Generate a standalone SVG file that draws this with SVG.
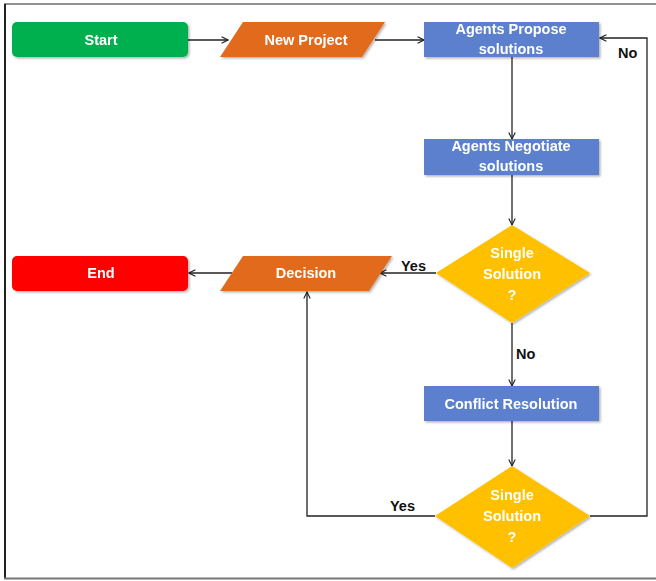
<svg xmlns="http://www.w3.org/2000/svg" width="656" height="581" viewBox="0 0 656 581">
  <style>
    .lbl { font-family: "Liberation Sans", Arial, sans-serif; font-weight: bold; font-size: 14.5px; fill: #ffffff; text-anchor: middle; }
    .edge { font-family: "Liberation Sans", Arial, sans-serif; font-weight: bold; font-size: 14.5px; fill: #111111; }
    .conn { fill: none; stroke: #222222; stroke-width: 1.3; }
    .green { fill: #00B050; }
    .red { fill: #FF0000; }
    .orange { fill: #E26B1C; }
    .blue { fill: #5B80CD; }
    .yellow { fill: #FFC000; }
  </style>
  <defs>
    <marker id="arrow" viewBox="0 0 10 10" refX="9" refY="5" markerWidth="8" markerHeight="8" markerUnits="userSpaceOnUse" orient="auto">
      <path d="M1,1 L9,5 L1,9" fill="none" stroke="#222222" stroke-width="1.4"/>
    </marker>
    <filter id="shadow" x="-10%" y="-20%" width="130%" height="150%">
      <feDropShadow dx="1.5" dy="1.5" stdDeviation="1.2" flood-color="#000000" flood-opacity="0.3"/>
    </filter>
  </defs>

  <rect width="656" height="581" fill="#ffffff"/>
  <!-- page frame -->
  <line x1="4" y1="4" x2="656" y2="4" stroke="#222222" stroke-width="1"/>
  <line x1="5" y1="4" x2="5" y2="579" stroke="#222222" stroke-width="2"/>
  <line x1="4" y1="578.5" x2="656" y2="578.5" stroke="#777777" stroke-width="2"/>

  <!-- connectors -->
  <g id="connectors">
    <line class="conn" x1="188" y1="40" x2="228" y2="40" marker-end="url(#arrow)"/>
    <line class="conn" x1="375" y1="40" x2="424" y2="40" marker-end="url(#arrow)"/>
    <line class="conn" x1="512" y1="57" x2="512" y2="139" marker-end="url(#arrow)"/>
    <line class="conn" x1="512" y1="175" x2="512" y2="225" marker-end="url(#arrow)"/>
    <line class="conn" x1="436" y1="273" x2="380" y2="273" marker-end="url(#arrow)"/>
    <line class="conn" x1="232" y1="273" x2="189" y2="273" marker-end="url(#arrow)"/>
    <line class="conn" x1="512" y1="323" x2="512" y2="386" marker-end="url(#arrow)"/>
    <line class="conn" x1="512" y1="421" x2="512" y2="466" marker-end="url(#arrow)"/>
    <polyline class="conn" points="435,516 307,516 307,292" marker-end="url(#arrow)"/>
    <polyline class="conn" points="590,516 647,516 647,38 600,38" marker-end="url(#arrow)"/>
    <text class="edge" x="618" y="58">No</text>
    <text class="edge" x="401" y="271">Yes</text>
    <text class="edge" x="516" y="359">No</text>
    <text class="edge" x="390" y="511">Yes</text>
  </g>

  <g id="start" filter="url(#shadow)">
    <rect class="green" x="12" y="22" width="176" height="35" rx="5"/>
    <text class="lbl" x="101" y="45">Start</text>
  </g>

  <g id="new-project" filter="url(#shadow)">
    <polygon class="orange" points="243,22 385,22 362,57 220,57"/>
    <text class="lbl" x="306" y="45">New Project</text>
  </g>

  <g id="agents-propose" filter="url(#shadow)">
    <rect class="blue" x="424" y="22" width="175" height="35"/>
    <text class="lbl" x="511" y="34">Agents Propose</text>
    <text class="lbl" x="511" y="54">solutions</text>
  </g>

  <g id="agents-negotiate" filter="url(#shadow)">
    <rect class="blue" x="424" y="139" width="175" height="36"/>
    <text class="lbl" x="511" y="151">Agents Negotiate</text>
    <text class="lbl" x="511" y="171">solutions</text>
  </g>

  <g id="single-solution-1" filter="url(#shadow)">
    <polygon class="yellow" points="512,225 590,273 512,323 436,273"/>
    <text class="lbl" x="512" y="258">Single</text>
    <text class="lbl" x="512" y="279">Solution</text>
    <text class="lbl" x="512" y="300">?</text>
  </g>

  <g id="decision" filter="url(#shadow)">
    <polygon class="orange" points="243,256 392,256 369,291 220,291"/>
    <text class="lbl" x="306" y="278">Decision</text>
  </g>

  <g id="end" filter="url(#shadow)">
    <rect class="red" x="12" y="256" width="176" height="35" rx="5"/>
    <text class="lbl" x="101" y="278">End</text>
  </g>

  <g id="conflict-resolution" filter="url(#shadow)">
    <rect class="blue" x="424" y="386" width="175" height="35"/>
    <text class="lbl" x="511" y="409">Conflict Resolution</text>
  </g>

  <g id="single-solution-2" filter="url(#shadow)">
    <polygon class="yellow" points="512,466 590,516 512,568 435,516"/>
    <text class="lbl" x="512" y="500">Single</text>
    <text class="lbl" x="512" y="521">Solution</text>
    <text class="lbl" x="512" y="542">?</text>
  </g>
</svg>
